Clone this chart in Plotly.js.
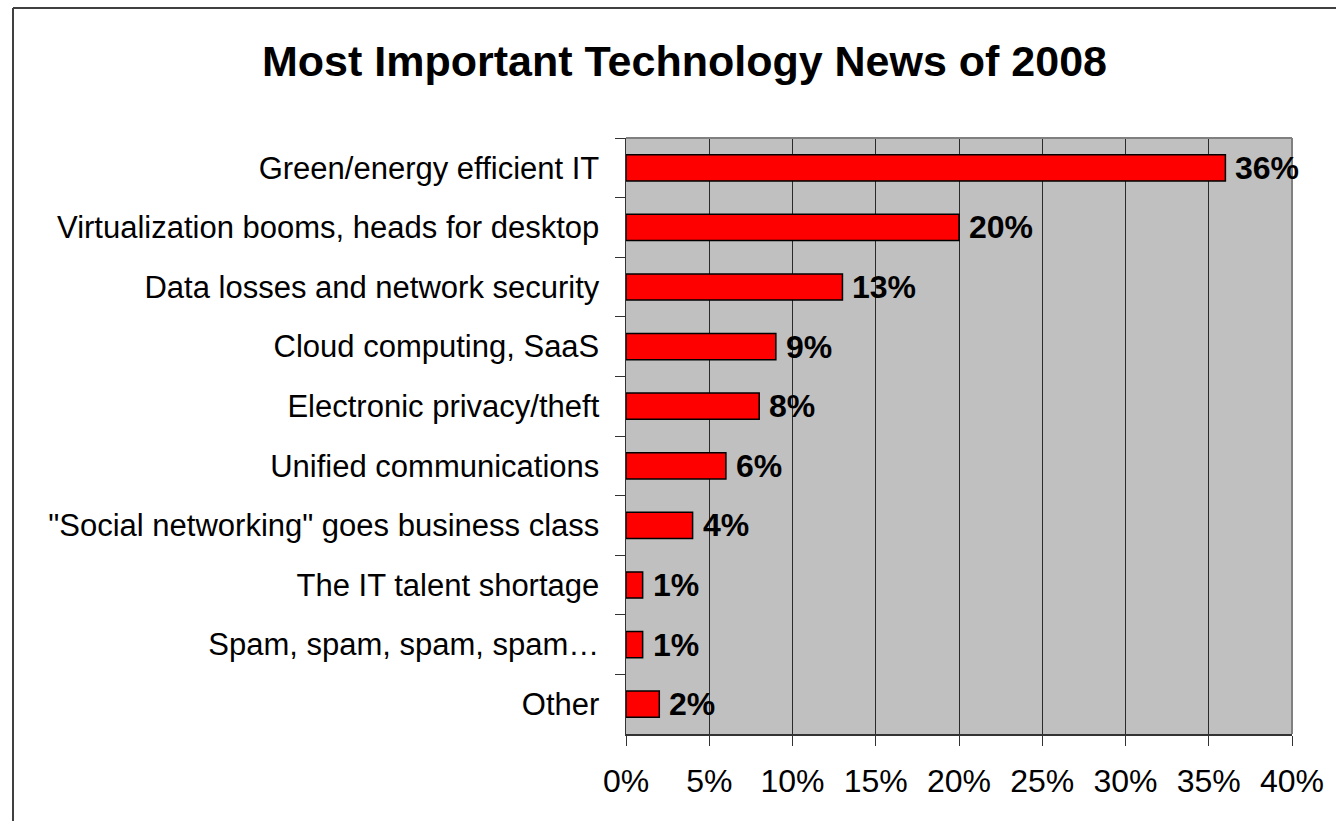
<!DOCTYPE html>
<html>
<head>
<meta charset="utf-8">
<script src="https://cdn.plot.ly/plotly-3.0.1.min.js"></script>
<style>
html,body{margin:0;padding:0;background:#fff;}
#chart{width:1336px;height:821px;}
</style>
</head>
<body>
<div id="chart"></div>
<script>
const categories = [
  "Green/energy efficient IT",
  "Virtualization booms, heads for desktop",
  "Data losses and network security",
  "Cloud computing, SaaS",
  "Electronic privacy/theft",
  "Unified communications",
  "\"Social networking\" goes business class",
  "The IT talent shortage",
  "Spam, spam, spam, spam…",
  "Other"
];
const values = [36, 20, 13, 9, 8, 6, 4, 1, 1, 2];
const tickValues = [0, 5, 10, 15, 20, 25, 30, 35, 40];
const tickLabels = ["0%", "5%", "10%", "15%", "20%", "25%", "30%", "35%", "40%"];
const titleText = "Most Important Technology News of 2008";

const FONT = "Arial, 'Liberation Sans', sans-serif";

const trace = {
  type: "bar",
  orientation: "h",
  x: values,
  y: categories,
  marker: {color: "#ff0000", line: {color: "#000000", width: 1.5}},
  hoverinfo: "none"
};

const annotations = values.map((v, i) => ({
  x: v, y: categories[i], xref: "x", yref: "y",
  text: "<b>" + v + "%</b>",
  showarrow: false, xanchor: "left", yanchor: "middle",
  xshift: 8,
  font: {family: FONT, size: 32, color: "#000"}
}));

const layout = {
  width: 1336, height: 821,
  margin: {l: 626, r: 44, t: 138, b: 87, pad: 0},
  paper_bgcolor: "#ffffff",
  plot_bgcolor: "#c0c0c0",
  showlegend: false,
  bargap: 0.56,
  title: {
    text: "<b>" + titleText + "</b>",
    font: {family: FONT, size: 43, color: "#000"},
    x: 684.5 / 1336, xref: "container", xanchor: "center",
    y: 1 - 61 / 821, yref: "container", yanchor: "middle"
  },
  xaxis: {
    range: [0, 40],
    tickvals: tickValues,
    ticktext: tickLabels,
    showgrid: true, gridcolor: "#2a2a2a", gridwidth: 1,
    zeroline: false,
    showline: true, linecolor: "#333333", linewidth: 1.5,
    ticks: "outside", ticklen: 10, tickcolor: "#333333", tickwidth: 1,
    ticklabelstandoff: 8,
    tickfont: {family: FONT, size: 32, color: "#000"},
    fixedrange: true
  },
  yaxis: {
    autorange: "reversed",
    type: "category",
    tickson: "boundaries",
    showgrid: false,
    zeroline: false,
    showline: true, linecolor: "#333333", linewidth: 1.5,
    ticks: "outside", ticklen: 10, tickcolor: "#333333", tickwidth: 1,
    ticklabelstandoff: 19,
    tickfont: {family: FONT, size: 31, color: "#000"},
    fixedrange: true
  },
  annotations: annotations,
  shapes: [
    {type: "line", xref: "paper", yref: "paper", x0: 0, x1: 1, y0: 1, y1: 1,
     line: {color: "#808080", width: 2}},
    {type: "line", xref: "paper", yref: "paper", x0: 1, x1: 1, y0: 0, y1: 1,
     line: {color: "#808080", width: 2}},
    {type: "line", xref: "paper", yref: "paper",
     x0: (13 - 626) / 666, x1: (13 - 626) / 666, y0: (734 - 8) / 596, y1: (734 - 830) / 596,
     line: {color: "#404040", width: 2}},
    {type: "line", xref: "paper", yref: "paper",
     x0: (13 - 626) / 666, x1: (1400 - 626) / 666, y0: (734 - 8) / 596, y1: (734 - 8) / 596,
     line: {color: "#404040", width: 2}}
  ]
};

Plotly.newPlot("chart", [trace], layout, {staticPlot: true, displayModeBar: false});
</script>
</body>
</html>
